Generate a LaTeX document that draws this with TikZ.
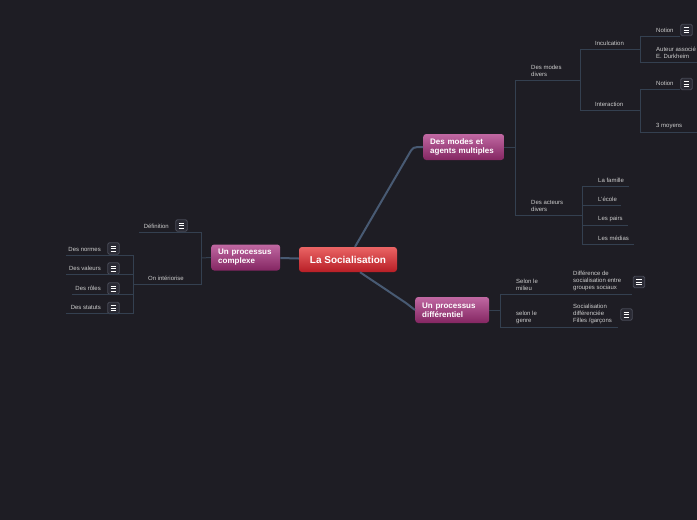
\documentclass[tikz,border=0pt]{standalone}
\usepackage{fontspec}
\setmainfont{Liberation Sans}
\definecolor{bgdark}{RGB}{30,29,36}
\definecolor{trunkline}{RGB}{72,90,115}
\definecolor{branchline}{RGB}{52,64,80}
\definecolor{leaftext}{RGB}{205,205,205}
\definecolor{topictop}{RGB}{192,104,162}
\definecolor{topicbot}{RGB}{132,38,98}
\definecolor{roottop}{RGB}{234,100,100}
\definecolor{rootbot}{RGB}{184,30,38}
\definecolor{iconfill}{RGB}{42,42,52}
\definecolor{iconedge}{RGB}{72,74,86}

\begin{document}
\begin{tikzpicture}[x=1pt, y=-1pt,
  root/.style={rounded corners=3pt, top color=roottop, bottom color=rootbot, text=white,
    font=\bfseries\fontsize{10}{12}\selectfont, minimum width=98pt, minimum height=25pt, inner sep=0pt},
  topic/.style={rounded corners=3pt, top color=topictop, bottom color=topicbot, text=white,
    font=\bfseries\fontsize{8}{9}\selectfont, align=left, inner xsep=7pt, inner ysep=0pt,
    minimum height=26pt, anchor=west},
  leaf/.style={font=\fontsize{6}{7}\selectfont, text=leaftext, align=left, inner sep=0pt, anchor=south west},
  leafL/.style={leaf, anchor=south east, align=right},
  trunk/.style={draw=trunkline, line width=2pt},
  branch/.style={draw=branchline, line width=1pt},
  noteicon/.style={draw=iconedge, fill=iconfill, rounded corners=1.5pt, minimum size=11.5pt,
    inner sep=0pt, line width=0.8pt,
    path picture={\foreach \dy in {-2.4,0,2.4}
      \draw[white, line width=0.7pt] ([shift={(-2.8pt,\dy pt)}]path picture bounding box.center) -- ++(5.6pt,0pt);}}
]

  % --- canvas: 697 x 520, dark page ---
  \useasboundingbox (0,0) rectangle (697,520);
  \fill[bgdark] (0,0) rectangle (697,520);

  % --- CENTRE and main topics ---
  \node[root] (central) at (348,259.5) {La Socialisation};
  \node[topic, text width=55pt] (complexe) at (211,257.5) {Un processus\\complexe};
  \node[topic, text width=67pt] (modes) at (423,147) {Des modes et\\agents multiples};
  \node[topic, text width=60pt] (diff) at (415,310) {Un processus\\différentiel};

  \draw[trunk] ([yshift=1pt]central.west) -- ([yshift=-0.5pt]complexe.east);
  \draw[trunk] ([xshift=7pt]central.north) -- (409,154) .. controls (413,147) .. (modes.west);
  \draw[trunk] ([xshift=12pt]central.south) -- (406,303) .. controls (410,306) .. (diff.west);

  % --- RIGHT TOP: modes et agents ---
  \coordinate (jModes) at (515,147);
  \coordinate (jDivers) at (580,80);
  \coordinate (jActeurs) at (582,215);
  \coordinate (jIncul) at (640,49);
  \coordinate (jInter) at (640,110);
  \coordinate (eNotionA) at (680,36);
  \coordinate (eAuteur) at (697,62);
  \coordinate (eNotionB) at (680,89);
  \coordinate (eMoyens) at (697,132);
  \coordinate (eFamille) at (629,186);
  \coordinate (eEcole) at (621,205);
  \coordinate (ePairs) at (628,225);
  \coordinate (eMedias) at (634,244);

  \node[leaf] (divers) at (531,77) {Des modes\\divers};
  \node[leaf] (acteurs) at (531,212) {Des acteurs\\divers};
  \node[leaf] (incul) at (595,46) {Inculcation};
  \node[leaf] (inter) at (595,107) {Interaction};
  \node[leaf] (notionA) at (656,33) {Notion};
  \node[noteicon] (notionAicon) at (686.5,30) {};
  \node[leaf] (auteur) at (656,59) {Auteur associé\\E. Durkheim};
  \node[leaf] (notionB) at (656,86) {Notion};
  \node[noteicon] (notionBicon) at (686.5,84) {};
  \node[leaf] (moyens) at (656,129) {3 moyens};
  \node[leaf] (famille) at (598,183) {La famille};
  \node[leaf] (ecole) at (598,202) {L'école};
  \node[leaf] (pairs) at (598,222) {Les pairs};
  \node[leaf] (medias) at (598,241) {Les médias};

  \draw[branch] (modes.east) -- (jModes);
  \draw[branch] (jModes) |- (jDivers);
  \draw[branch] (jModes) |- (jActeurs);
  \draw[branch] (jDivers) |- (jIncul);
  \draw[branch] (jDivers) |- (jInter);
  \draw[branch] (jIncul) |- (eNotionA);
  \draw[branch] (jIncul) |- (eAuteur);
  \draw[branch] (jInter) |- (eNotionB);
  \draw[branch] (jInter) |- (eMoyens);
  \draw[branch] (jActeurs) |- (eFamille);
  \draw[branch] (jActeurs) |- (eEcole);
  \draw[branch] (jActeurs) |- (ePairs);
  \draw[branch] (jActeurs) |- (eMedias);

  % --- RIGHT BOTTOM: processus differentiel ---
  \coordinate (jDiff) at (500,310);
  \coordinate (jMilieu) at (565,294);
  \coordinate (jGenre) at (565,327);
  \coordinate (eDiffer) at (632,294);
  \coordinate (eFilles) at (618,327);

  \node[leaf] (milieu) at (516,291) {Selon le\\milieu};
  \node[leaf] (genre) at (516,324) {selon le\\genre};
  \node[leaf] (differ) at (573,291) {Différence de\\socialisation entre\\groupes sociaux};
  \node[noteicon] (differicon) at (639,282) {};
  \node[leaf] (filles) at (573,324) {Socialisation\\différenciée\\Filles /garçons};
  \node[noteicon] (fillesicon) at (626.5,314.5) {};

  \draw[branch] (diff.east) -- (jDiff);
  \draw[branch] (jDiff) |- (jMilieu);
  \draw[branch] (jDiff) |- (jGenre);
  \draw[branch] (jMilieu) -- (eDiffer);
  \draw[branch] (jGenre) -- (eFilles);

  % --- LEFT: processus complexe ---
  \coordinate (jComplexe) at (201,258);
  \coordinate (eDefinition) at (139,232);
  \coordinate (jInterior) at (133,284);
  \coordinate (eNormes) at (66,255);
  \coordinate (eValeurs) at (66,274);
  \coordinate (eRoles) at (72,294);
  \coordinate (eStatuts) at (66,313);

  \node[leafL] (definition) at (169,229) {Définition};
  \node[noteicon] (definitionicon) at (181.5,225.5) {};
  \node[leafL] (interior) at (184,281) {On intériorise};
  \node[leafL] (normes) at (101,252) {Des normes};
  \node[noteicon] (normesicon) at (113.5,248.5) {};
  \node[leafL] (valeurs) at (101,271) {Des valeurs};
  \node[noteicon] (valeursicon) at (113.5,268.5) {};
  \node[leafL] (roles) at (101,291) {Des rôles};
  \node[noteicon] (rolesicon) at (113.5,288.5) {};
  \node[leafL] (statuts) at (101,310) {Des statuts};
  \node[noteicon] (statutsicon) at (113.5,308) {};

  \draw[branch] (complexe.west) -- (jComplexe);
  \draw[branch] (jComplexe) |- (eDefinition);
  \draw[branch] (jComplexe) |- (jInterior);
  \draw[branch] (jInterior) |- (eNormes);
  \draw[branch] (jInterior) |- (eValeurs);
  \draw[branch] (jInterior) |- (eRoles);
  \draw[branch] (jInterior) |- (eStatuts);

\end{tikzpicture}
\end{document}
